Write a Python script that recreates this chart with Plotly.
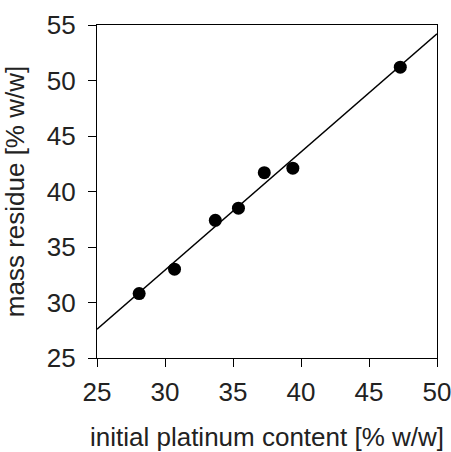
import plotly.graph_objects as go

# Measured samples
platinum_content = [28.1, 30.7, 33.7, 35.4, 37.3, 39.4, 47.3]
mass_residue = [30.8, 33.0, 37.4, 38.5, 41.7, 42.1, 51.2]

# Fitted line end points
fit_x = [25, 50]
fit_y = [27.6, 54.2]

x_ticks = [25, 30, 35, 40, 45, 50]
y_ticks = [25, 30, 35, 40, 45, 50, 55]

font_family = "Liberation Sans, Arial, sans-serif"
font_size = 26

fig = go.Figure()
fig.add_trace(go.Scatter(
    x=fit_x, y=fit_y, mode="lines",
    line=dict(color="black", width=1.5),
    showlegend=False,
))
fig.add_trace(go.Scatter(
    x=platinum_content, y=mass_residue, mode="markers",
    marker=dict(color="black", size=13),
    showlegend=False, cliponaxis=False,
))

axis_style = dict(
    ticks="outside", ticklen=8, tickwidth=1.3, tickcolor="black",
    showline=True, linecolor="black", linewidth=1.3, mirror=True,
    showgrid=False, zeroline=False, automargin=False,
    ticklabeloverflow="allow",
    tickfont=dict(size=font_size),
)

fig.update_layout(
    width=451, height=452,
    margin=dict(l=97, r=14, t=25, b=94),
    paper_bgcolor="white", plot_bgcolor="white",
    font=dict(family=font_family, size=font_size, color="#222222"),
    xaxis=dict(
        range=[25, 50], tickvals=x_ticks, ticklabelstandoff=3,
        title=dict(text="initial platinum content [% w/w]",
                   font=dict(size=font_size), standoff=22),
        **axis_style,
    ),
    yaxis=dict(
        range=[25, 55], tickvals=y_ticks, ticklabelstandoff=7,
        title=dict(text="mass residue [% w/w]",
                   font=dict(size=font_size), standoff=14),
        **axis_style,
    ),
)

fig.write_html("out.html")
